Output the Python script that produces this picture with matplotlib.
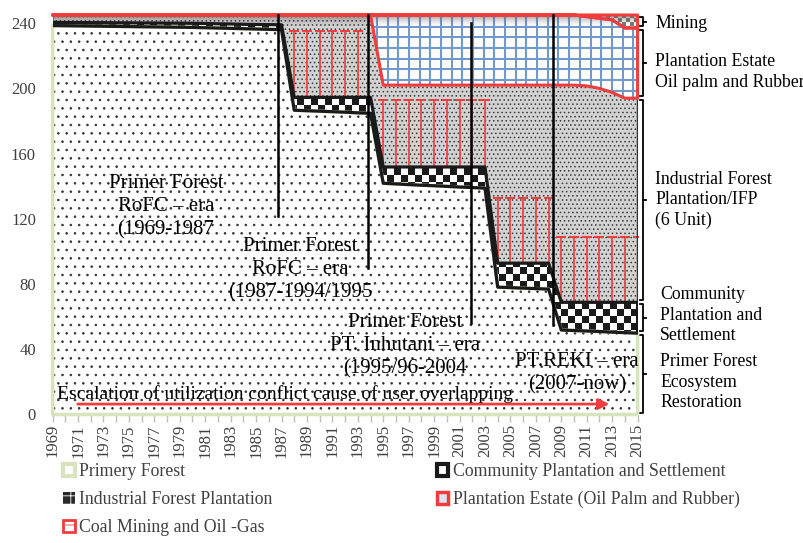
import numpy as np
import matplotlib.pyplot as plt
from matplotlib.patches import Patch
from matplotlib.colors import ListedColormap

plt.rcParams['font.family'] = ['Liberation Serif', 'DejaVu Serif']
plt.rcParams['hatch.linewidth'] = 0.6

# data (area in thousand ha), stacked bottom -> top
years = list(range(1969, 2016))
tick_years = list(range(1969, 2016, 2))

primary = [238.5, 238.4, 238.3, 238.2, 238.1, 238.0, 237.9, 237.8, 237.7, 237.6,
           237.5, 237.4, 237.2, 237.0, 236.8, 236.6, 236.4, 236.2, 236.0,
           186.6, 186.3, 186.0, 185.7, 185.4, 185.0, 184.7,
           141.8, 141.4, 141.0, 140.6, 140.3, 139.9, 139.5, 139.2, 138.8,
           78.1, 77.8, 77.5, 77.2, 76.9,
           51.8, 51.5, 51.2, 50.9, 50.5, 50.2, 49.9]
community = [2.0, 2.0, 2.1, 2.1, 2.2, 2.2, 2.3, 2.3, 2.4, 2.4,
             2.5, 2.5, 2.6, 2.6, 2.7, 2.7, 2.8, 2.9, 3.0,
             7.9, 8.2, 8.5, 8.8, 9.1, 9.5, 9.8,
             10.0, 10.4, 10.8, 11.2, 11.5, 11.9, 12.3, 12.6, 13.0,
             14.7, 15.0, 15.3, 15.6, 15.9,
             17.0, 17.3, 17.6, 17.9, 18.3, 18.6, 18.9]
ifp = [4.5, 4.6, 4.6, 4.7, 4.7, 4.8, 4.8, 4.9, 4.9, 5.0,
       5.0, 5.1, 5.2, 5.4, 5.5, 5.7, 5.8, 5.9, 6.0,
       50.5, 50.5, 50.5, 50.5, 50.5, 50.5, 50.5,
       50.2, 50.2, 50.2, 50.2, 50.2, 50.2, 50.2, 50.2, 50.2,
       109.2, 109.2, 109.2, 109.2, 109.2,
       133.2, 133.2, 132.7, 131.2, 128.7, 125.2, 125.2]
estate = [0] * 26 + [43] * 16 + [42.5, 43, 44.5, 43, 43]
mining = [0] * 42 + [1, 2, 3, 8, 8]
# red "I" markers (overlapping claims) drawn on top of the community layer
overlap_top = ([np.nan] * 19 + [235] * 6 + [np.nan] + [192.7] * 9
               + [132.7] * 5 + [108.8] * 7)

x = np.array(years)
l1 = np.array(primary)
l2 = l1 + np.array(community)
l3 = l2 + np.array(ifp)
l4 = l3 + np.array(estate)
l5 = l4 + np.array(mining)

fig = plt.figure(figsize=(8.04, 5.43), dpi=100)
ax = fig.add_axes([52.6 / 804, 128.5 / 543, 585 / 804, 399.5 / 543])

red = '#f03c3c'
green = '#d7e4bd'

# primary forest: white with dots
ax.fill_between(x, 0, l1, facecolor='white', edgecolor='#333333', hatch='..', linewidth=0, zorder=1)
# industrial forest plantation: gray stipple
ax.fill_between(x, l2, l3, facecolor='#d2d2d2', edgecolor='#3a3a3a', hatch='....', linewidth=0, zorder=1)
# community: checkerboard
comm = ax.fill_between(x, l1, l2, facecolor='white', linewidth=0, zorder=1)
chk = np.add.outer(np.arange(57), np.arange(84)) % 2
im = ax.imshow(chk, cmap=ListedColormap(['white', '#1a1a1a']), extent=[1969, 2015, 0, 245],
               origin='lower', aspect='auto', interpolation='nearest', zorder=1.5)
im.set_clip_path(comm.get_paths()[0], ax.transData)
# plantation estate: blue grid
est = ax.fill_between(x, l3, l4, facecolor='white', linewidth=0, zorder=1)
vl = ax.vlines(np.arange(1969.3, 2015.5, 0.84), 0, 245, color='#7399cc', lw=1.5, zorder=1.5)
hl = ax.hlines(np.arange(2.0, 245, 6.55), 1969, 2015, color='#7399cc', lw=1.5, zorder=1.5)
vl.set_clip_path(est.get_paths()[0], ax.transData)
hl.set_clip_path(est.get_paths()[0], ax.transData)
# mining: small gray checker
mine = ax.fill_between(x, l4, l5, facecolor='white', linewidth=0, zorder=1)
chk2 = np.add.outer(np.arange(100), np.arange(146)) % 2
im2 = ax.imshow(chk2, cmap=ListedColormap(['white', '#7a7a7a']), extent=[1969, 2015, 0, 245],
                origin='lower', aspect='auto', interpolation='nearest', zorder=1.5)
im2.set_clip_path(mine.get_paths()[0], ax.transData)

# shadow under the top edge
grad = np.zeros((40, 1, 4))
grad[:, 0, :3] = 0.35
grad[:, 0, 3] = np.linspace(0, 1, 40) ** 1.6 * 0.65
ax.imshow(grad, extent=[1969, 2015, 237.5, 245], origin='lower', aspect='auto',
          interpolation='bilinear', zorder=2)

# red I markers
ax.vlines(x, l2, overlap_top, color=red, lw=1.2, zorder=3)
ax.plot(x, overlap_top, ls='none', marker='_', ms=6.5, mew=1.4, color=red, zorder=3)

# outlines
ax.fill_between(x, 0, l1, facecolor='none', edgecolor=green, linewidth=2.5, zorder=3, clip_on=False)
ax.fill_between(x, l2, l3, facecolor='none', edgecolor='#333333', linewidth=1.2, zorder=3.2)
ax.fill_between(x, l1, l2, facecolor='none', edgecolor='#1a1a1a', linewidth=2.3, zorder=4)
ax.fill_between(x, l3, l4, facecolor='none', edgecolor=red, linewidth=2.2, zorder=5, clip_on=False)
ax.fill_between(x, l4, l5, facecolor='none', edgecolor=red, linewidth=2.2, zorder=5, clip_on=False)

# era separators
for xe, y0, y1 in [(1986.72, 122, 245), (1993.8, 90, 245), (2001.9, 56, 240), (2008.35, 55, 245)]:
    ax.plot([xe, xe], [y0, y1], color='black', lw=1.8, zorder=6, clip_on=False)

era_kw = dict(ha='center', va='center', fontsize=15, linespacing=1.3, zorder=7, color='black')
ax.text(1977.9, 127.3, 'Primer Forest\nRoFC – era\n(1969-1987', **era_kw)
ax.text(1988.45, 88.6, 'Primer Forest\nRoFC – era\n(1987-1994/1995', **era_kw)
ax.text(1996.7, 42.0, 'Primer Forest\nPT. Inhutani – era\n(1995/96-2004', **era_kw)
ax.text(2010.24, 25.1, 'PT.REKI – era\n(2007-now)', **era_kw)

ax.text(1969.35, 12.6, 'Escalation of utilization conflict cause of user overlapping',
        ha='left', va='center', fontsize=14, zorder=7)
ax.annotate('', xy=(2013.0, 6.4), xytext=(1970.76, 6.4),
            arrowprops=dict(arrowstyle='-|>', color=red, lw=2, mutation_scale=16), zorder=7)

# braces + labels on the right
bounds = [(0, l1[-1]), (l1[-1], l2[-1]), (l2[-1], l3[-1]), (l3[-1], l4[-1]), (l4[-1], l5[-1])]
for b0, b1 in bounds:
    y0, y1 = b0 + 1.2, b1 - 1.2
    ym = (y0 + y1) / 2
    ax.plot([2015.2, 2015.42, 2015.42, 2015.2], [y0, y0, y1, y1], color='black', lw=1.3, clip_on=False)
    ax.plot([2015.42, 2015.68], [ym, ym], color='black', lw=1.3, clip_on=False)

lab_kw = dict(ha='left', va='center', fontsize=12.8, linespacing=1.28, color='black')
ax.text(2016.37, 240.0, 'Mining', **lab_kw)
ax.text(2016.37, 210.0, 'Plantation Estate\nOil palm and Rubber', **lab_kw)
ax.text(2016.37, 131.5, 'Industrial Forest\nPlantation/IFP\n(6 Unit)', **lab_kw)
ax.text(2016.77, 61.0, 'Community\nPlantation and\nSettlement', **lab_kw)
ax.text(2016.77, 19.9, 'Primer Forest\nEcosystem\nRestoration', **lab_kw)

# axes
ax.set_xlim(1969, 2015)
ax.set_ylim(0, 245)
ax.set_yticks([0, 40, 80, 120, 160, 200, 240])
ax.set_xticks(tick_years)
ax.set_xticks(years, minor=True)
ax.tick_params(axis='y', length=0, pad=12, labelsize=12, labelcolor='#404040')
ax.tick_params(axis='x', which='both', length=5, width=1, color='#bfbfbf', pad=2,
               labelrotation=90, labelsize=12, labelcolor='#404040')
for s in ax.spines.values():
    s.set_visible(False)

handles = [Patch(facecolor='white', edgecolor=green, linewidth=3),
           Patch(facecolor='#2a2a2a', edgecolor='white', hatch='++', linewidth=0),
           Patch(facecolor='white', edgecolor=red, hatch='+', linewidth=2),
           Patch(facecolor='white', edgecolor='#1a1a1a', linewidth=3),
           Patch(facecolor='#dce6f2', edgecolor=red, linewidth=2.5)]
labels = ['Primery Forest', 'Industrial Forest Plantation', 'Coal Mining and Oil -Gas',
          'Community Plantation and Settlement', 'Plantation Estate (Oil Palm and Rubber)']
fig.legend(handles, labels, ncol=2, loc='upper left', bbox_to_anchor=(63 / 804, 1 - 463 / 543),
           frameon=False, fontsize=12.8, labelcolor='#404040', handlelength=0.65, handleheight=0.65,
           handletextpad=0.25, labelspacing=0.62, columnspacing=9.25, borderpad=0, borderaxespad=0)

fig.savefig('out.png', dpi=100)
